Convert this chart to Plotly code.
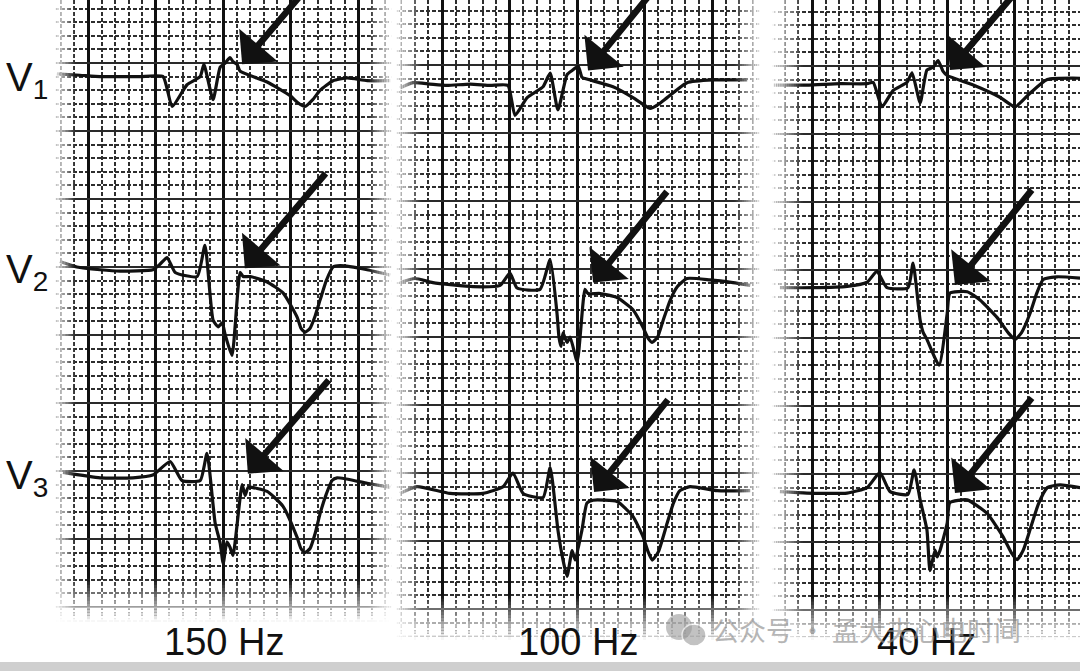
import plotly.graph_objects as go

# ---------------- DATA ----------------
# time in ms measured from the first heavy vertical grid line of each panel,
# amplitude in mV measured from the top heavy horizontal grid line (negative = down)
filters = ["150 Hz", "100 Hz", "40 Hz"]
lead_names = ["V<sub>1</sub>", "V<sub>2</sub>", "V<sub>3</sub>"]

# ---- 150 Hz ----
t150_v1 = [-92, -24, 36, 95, 154, 222, 249, 293, 332, 343, 370, 391, 406, 420, 429, 441, 450, 530, 598, 620, 642, 665, 687, 725, 767, 826, 894]
mv150_v1 = [-0.08, -0.09, -0.10, -0.10, -0.10, -0.10, -0.32, -0.16, -0.10, -0.01, -0.27, -0.03, 0.00, 0.04, 0.01, -0.01, -0.06, -0.14, -0.24, -0.29, -0.32, -0.27, -0.20, -0.13, -0.11, -0.13, -0.13]
t150_v2 = [-83, -33, 36, 95, 192, 213, 234, 258, 323, 346, 370, 385, 397, 406, 426, 450, 459, 480, 530, 577, 619, 630, 642, 657, 672, 687, 705, 725, 746, 826, 894]
mv150_v2 = [-1.46, -1.50, -1.52, -1.53, -1.52, -1.48, -1.43, -1.54, -1.57, -1.34, -1.89, -1.94, -1.91, -2.00, -2.15, -1.54, -1.57, -1.57, -1.61, -1.69, -1.87, -1.95, -1.98, -1.95, -1.86, -1.74, -1.60, -1.50, -1.49, -1.52, -1.56]
t150_v3 = [-74, 36, 133, 192, 243, 278, 332, 352, 376, 391, 400, 411, 420, 429, 456, 465, 474, 530, 577, 619, 630, 642, 657, 672, 687, 705, 722, 737, 826, 894]
mv150_v3 = [-3.01, -3.05, -3.05, -3.03, -2.93, -3.07, -3.07, -2.87, -3.38, -3.53, -3.68, -3.52, -3.56, -3.62, -3.10, -3.18, -3.12, -3.15, -3.26, -3.49, -3.57, -3.60, -3.57, -3.46, -3.31, -3.17, -3.07, -3.05, -3.09, -3.12]

# ---- 100 Hz ----
t100_v1 = [-124, -86, -36, 15, 83, 142, 195, 216, 252, 299, 320, 343, 370, 385, 403, 414, 423, 506, 565, 595, 616, 640, 666, 725, 802, 903]
mv100_v1 = [-0.17, -0.13, -0.14, -0.15, -0.14, -0.15, -0.15, -0.37, -0.24, -0.16, -0.06, -0.33, -0.07, -0.04, -0.01, -0.09, -0.10, -0.16, -0.24, -0.29, -0.32, -0.29, -0.24, -0.13, -0.11, -0.11]
t100_v2 = [-124, -80, -27, 92, 172, 201, 222, 290, 320, 340, 346, 352, 358, 370, 379, 400, 423, 432, 468, 518, 565, 595, 610, 622, 638, 654, 675, 696, 725, 793, 861, 912]
mv100_v2 = [-1.60, -1.57, -1.60, -1.63, -1.62, -1.53, -1.64, -1.65, -1.43, -1.82, -2.00, -2.07, -1.97, -2.04, -2.00, -2.18, -1.65, -1.68, -1.68, -1.71, -1.80, -1.93, -2.01, -2.04, -2.00, -1.88, -1.73, -1.63, -1.57, -1.58, -1.60, -1.62]
t100_v3 = [-124, -74, 24, 121, 181, 210, 240, 299, 320, 343, 358, 370, 385, 394, 414, 429, 447, 518, 565, 595, 610, 622, 640, 666, 685, 704, 734, 814, 912]
mv100_v3 = [-3.15, -3.10, -3.15, -3.15, -3.10, -3.00, -3.15, -3.18, -2.96, -3.42, -3.64, -3.76, -3.57, -3.64, -3.42, -3.22, -3.20, -3.21, -3.32, -3.47, -3.58, -3.64, -3.58, -3.37, -3.22, -3.13, -3.10, -3.13, -3.13]

# ---- 40 Hz ----
t40_v1 = [-115, -15, 83, 163, 181, 207, 240, 281, 296, 320, 340, 358, 373, 388, 400, 477, 556, 601, 645, 696, 793]
mv40_v1 = [-0.14, -0.14, -0.13, -0.13, -0.12, -0.30, -0.18, -0.12, -0.05, -0.27, -0.03, -0.01, 0.04, -0.04, -0.07, -0.14, -0.23, -0.30, -0.20, -0.10, -0.09]
t40_v2 = [-95, 3, 104, 163, 192, 222, 284, 299, 320, 329, 340, 376, 400, 408, 459, 497, 548, 580, 601, 620, 645, 665, 684, 725, 793]
mv40_v2 = [-1.63, -1.63, -1.62, -1.59, -1.51, -1.63, -1.63, -1.45, -1.87, -1.96, -2.01, -2.20, -1.82, -1.67, -1.66, -1.72, -1.85, -1.96, -2.01, -1.96, -1.82, -1.67, -1.57, -1.55, -1.56]
t40_v3 = [-95, -15, 104, 163, 201, 231, 284, 302, 320, 340, 349, 364, 370, 379, 400, 408, 459, 518, 565, 590, 607, 625, 645, 670, 696, 734, 793]
mv40_v3 = [-3.13, -3.14, -3.14, -3.10, -2.99, -3.13, -3.15, -2.97, -3.19, -3.41, -3.71, -3.56, -3.61, -3.56, -3.36, -3.21, -3.19, -3.29, -3.46, -3.58, -3.63, -3.56, -3.41, -3.22, -3.10, -3.08, -3.10]

# arrows: tip (ms, mV) and tail (ms, mV), per panel, per lead
arrow_tip_t = [[456, 464, 473], [432, 447, 450], [408, 423, 423]]
arrow_tip_mv = [[-0.01, -1.51, -3.02], [-0.04, -1.60, -3.14], [-0.03, -1.61, -3.14]]
arrow_tail_t = [[698, 707, 716], [655, 669, 672], [639, 654, 654]]
arrow_tail_mv = [[0.70, -0.80, -2.32], [0.64, -0.92, -2.45], [0.65, -0.90, -2.43]]

panel_t = [[t150_v1, t150_v2, t150_v3], [t100_v1, t100_v2, t100_v3], [t40_v1, t40_v2, t40_v3]]
panel_mv = [[mv150_v1, mv150_v2, mv150_v3], [mv100_v1, mv100_v2, mv100_v3], [mv40_v1, mv40_v2, mv40_v3]]

# ---------------- LAYOUT ----------------
W, H = 1080, 671
PX_PER_MS = 0.338
PX_PER_MV = 136.0
# panel geometry in page pixels: (left, right, bottom, x of t=0, y of 0 mV)
panels = [(55, 392, 622, 88, 63), (396, 760, 640, 442, 65), (772, 1080, 640, 812, 66)]

fig = go.Figure()
layout = dict(width=W, height=H, margin=dict(l=0, r=0, t=0, b=0),
              paper_bgcolor="white", plot_bgcolor="white", showlegend=False,
              hovermode=False)
shapes = []
annotations = []

MAJOR_X = "#101010"
MAJOR_Y = "#2a2a2a"
MINOR = "#2e2e2e"

for i, (pl, pr, pb, x0, y0) in enumerate(panels):
    sfx = "" if i == 0 else str(i + 1)
    xr = [(pl - x0) / PX_PER_MS, (pr - x0) / PX_PER_MS]
    yr = [-(pb - y0) / PX_PER_MV, y0 / PX_PER_MV]
    layout["xaxis" + sfx] = dict(domain=[pl / W, pr / W], range=xr, anchor="y" + sfx,
                                 showticklabels=False, ticks="", zeroline=False, showline=False,
                                 tick0=0, dtick=200, showgrid=True, gridcolor=MAJOR_X, gridwidth=2.6,
                                 minor=dict(dtick=40, tick0=0, showgrid=True, gridcolor=MINOR,
                                            gridwidth=1.7, griddash="4px,2px", ticks=""),
                                 fixedrange=True)
    layout["yaxis" + sfx] = dict(domain=[1 - pb / H, 1], range=yr, anchor="x" + sfx,
                                 showticklabels=False, ticks="", zeroline=False, showline=False,
                                 tick0=0, dtick=0.5, showgrid=True, gridcolor=MAJOR_Y, gridwidth=2.2,
                                 minor=dict(dtick=0.1, tick0=0, showgrid=True, gridcolor=MINOR,
                                            gridwidth=1.7, griddash="4px,2px", ticks=""),
                                 fixedrange=True)
    for k in range(3):
        fig.add_trace(go.Scatter(x=panel_t[i][k], y=panel_mv[i][k], mode="lines",
                                 line=dict(color="#111111", width=3.2, shape="spline", smoothing=0.5),
                                 xaxis="x" + sfx, yaxis="y" + sfx))
        annotations.append(dict(x=arrow_tip_t[i][k], y=arrow_tip_mv[i][k],
                                ax=arrow_tail_t[i][k], ay=arrow_tail_mv[i][k],
                                xref="x" + sfx, yref="y" + sfx, axref="x" + sfx, ayref="y" + sfx,
                                showarrow=True, arrowhead=1, arrowsize=1.3, arrowwidth=6.5,
                                arrowcolor="#111111", standoff=0, text=""))
    # frequency label
    annotations.append(dict(text=filters[i], x=0.5, y=1 - 642 / H, xref="x" + sfx + " domain",
                            yref="paper", yanchor="middle", showarrow=False,
                            font=dict(family="Liberation Sans, Arial", size=38, color="#111")))

# edge fades of the grid paper
def fade(sfx, side, frac, n=14):
    for j in range(n):
        a = 1 - (j + 0.5) / n
        s0, s1 = j * frac / n, (j + 1) * frac / n
        if side == "left":
            x0_, x1_, y0_, y1_ = s0, s1, 0, 1
        elif side == "right":
            x0_, x1_, y0_, y1_ = 1 - s1, 1 - s0, 0, 1
        else:
            x0_, x1_, y0_, y1_ = 0, 1, s0, s1
        shapes.append(dict(type="rect", xref="x" + sfx + " domain", yref="y" + sfx + " domain",
                           x0=x0_, x1=x1_, y0=y0_, y1=y1_, fillcolor="white",
                           opacity=a, line=dict(width=0), layer="above"))

fade("", "left", 0.06)
fade("", "right", 0.07)
fade("", "bottom", 0.07)
fade("2", "left", 0.07)
fade("2", "right", 0.07)
fade("2", "bottom", 0.07)
fade("3", "left", 0.1)
fade("3", "bottom", 0.07)

# lead labels
for k, y_px in enumerate([80, 272, 478]):
    annotations.append(dict(text=lead_names[k], x=4 / W, y=1 - y_px / H, xref="paper", yref="paper",
                            xanchor="left", yanchor="middle", showarrow=False,
                            font=dict(family="Liberation Sans, Arial", size=40, color="#111")))

# bottom grey strip
shapes.append(dict(type="rect", xref="paper", yref="paper", x0=0, x1=1, y0=0, y1=9 / H,
                   fillcolor="#cfcfcf", line=dict(width=0), layer="above"))

# watermark
shapes.append(dict(type="circle", xref="paper", yref="paper", x0=666 / W, x1=692 / W,
                   y0=1 - 640 / H, y1=1 - 614 / H, fillcolor="#9a9a9a", opacity=0.6,
                   line=dict(width=0), layer="above"))
shapes.append(dict(type="circle", xref="paper", yref="paper", x0=682 / W, x1=706 / W,
                   y0=1 - 646 / H, y1=1 - 624 / H, fillcolor="#9a9a9a", opacity=0.6,
                   line=dict(color="white", width=1.5), layer="above"))
annotations.append(dict(text="公众号 · 孟大夫心电时间", x=710 / W, y=1 - 629 / H, xref="paper", yref="paper",
                        xanchor="left", yanchor="middle", showarrow=False, opacity=0.65,
                        font=dict(family="Noto Sans CJK SC", size=27, color="#8f8f8f")))

layout["shapes"] = shapes
layout["annotations"] = annotations
fig.update_layout(**layout)

fig.write_html("out.html", config={"displayModeBar": False},
               post_script="document.body.style.margin='0';document.body.style.overflow='hidden';")
